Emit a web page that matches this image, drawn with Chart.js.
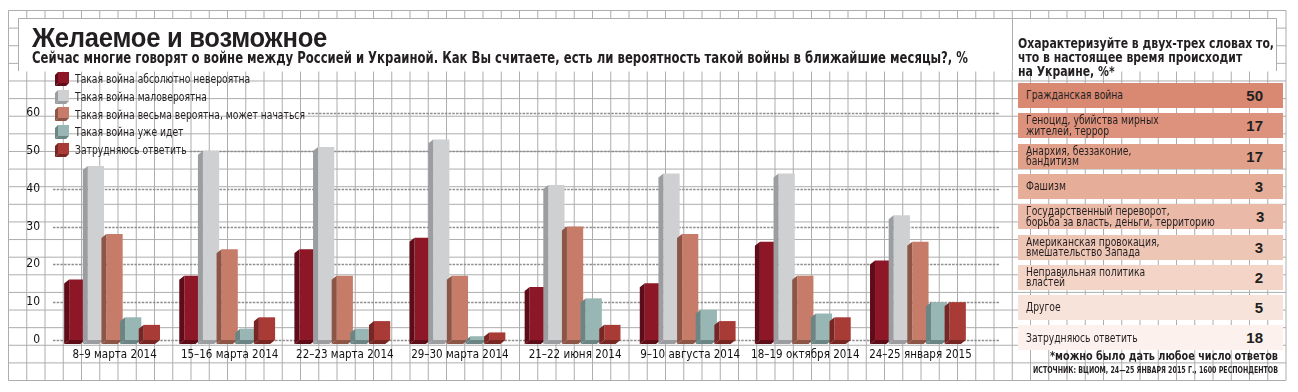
<!DOCTYPE html>
<html>
<head>
<meta charset="utf-8">
<script src="https://cdn.jsdelivr.net/npm/chart.js@4.4.1/dist/chart.umd.min.js"></script>
<style>
    body { margin: 0; width: 1298px; height: 392px; overflow: hidden; background: #fff; position: relative;
           font-family: "DejaVu Sans Condensed", "Liberation Sans", sans-serif; color: #231f20; }
    #bg, #chart { position: absolute; left: 0; top: 0; }
    .fit { position: absolute; white-space: nowrap; transform-origin: 0 0; }
    #title { left: 32px; top: 22px; font: bold 28px "Liberation Sans", sans-serif; letter-spacing: -0.3px; }
    #subtitle { left: 32px; top: 49px; font-weight: bold; font-size: 15px; }
    #heading { left: 1018px; top: 36px; font-weight: bold; font-size: 14px; line-height: 14px; white-space: pre; }
    #legend { position: absolute; left: 55px; top: 70px; }
    .lg { height: 17.7px; display: flex; align-items: center; font-size: 12.5px; white-space: nowrap; }
    .lg canvas { margin-right: 6px; }
    .lg span, .row .lab span { display: inline-block; transform: scaleX(0.82); transform-origin: 0 50%; }
    .row { position: absolute; left: 1018px; width: 265px; height: 25px; display: flex; align-items: center; justify-content: space-between; }
    .row .lab { padding-left: 8px; font-size: 12.5px; line-height: 10.5px; white-space: pre; }
    .row .val { padding-right: 20px; font-weight: bold; font-size: 15px; font-family: "Liberation Sans", sans-serif; }
    #note { left: 1050px; top: 348px; font-size: 12.5px; font-weight: bold; }
    #source { left: 1033px; top: 364px; font-size: 9.5px; font-weight: bold; }
</style>
</head>
<body>
<canvas id="bg" width="1298" height="392"></canvas>
<div id="title" class="fit">Желаемое и возможное</div>
<div id="subtitle" class="fit">Сейчас многие говорят о войне между Россией и Украиной. Как Вы считаете, есть ли вероятность такой войны в ближайшие месяцы?, %</div>
<div id="heading" class="fit">Охарактеризуйте в двух-трех словах то,
что в настоящее время происходит
на Украине, %*</div>
<canvas id="chart" width="1010" height="392"></canvas>
<div id="legend"></div>
<div id="table"></div>
<div id="note" class="fit">*можно было дать любое число ответов</div>
<div id="source" class="fit">ИСТОЧНИК: ВЦИОМ, 24—25 ЯНВАРЯ 2015 Г., 1600 РЕСПОНДЕНТОВ</div>
<script>
const surveyDates = ['8–9 марта 2014', '15–16 марта 2014', '22–23 марта 2014', '29–30 марта 2014',
    '21–22 июня 2014', '9–10 августа 2014', '18–19 октября 2014', '24–25 января 2015'];
const seriesNames = ['Такая война абсолютно невероятна', 'Такая война маловероятна',
    'Такая война весьма вероятна, может начаться', 'Такая война уже идет', 'Затрудняюсь ответить'];
const impossible = [16, 17, 24, 27, 14, 15, 26, 21];
const unlikely = [46, 50, 51, 53, 41, 44, 44, 33];
const likely = [28, 24, 17, 17, 30, 28, 17, 26];
const alreadyGoing = [6, 3, 3, 1, 11, 8, 7, 10];
const hardToSay = [4, 6, 5, 2, 4, 5, 6, 10];
const yTicks = [0, 10, 20, 30, 40, 50, 60];

const answerLabels = ['Гражданская война', 'Геноцид, убийства мирных\nжителей, террор', 'Анархия, беззаконие,\nбандитизм',
    'Фашизм', 'Государственный переворот,\nборьба за власть, деньги, территорию', 'Американская провокация,\nвмешательство Запада',
    'Неправильная политика\nвластей', 'Другое', 'Затрудняюсь ответить'];
const answerValues = [50, 17, 17, 3, 3, 3, 2, 5, 18];

// colours: front face, side face
const fronts = ['#8d1727', '#cfd0d2', '#c77c69', '#98b6b4', '#a93b37'];
const sides = ['#5e0c17', '#9c9da1', '#8c5546', '#6a8583', '#772623'];
const rowColors = ['#d98872', '#dc927c', '#e1a08a', '#e6ad99', '#eab9a7', '#eec6b6', '#f3d4c7', '#f8e3da', '#fcf1ec'];
const tickFont = '"DejaVu Sans Condensed", "Liberation Sans", sans-serif';

// background grid
(function drawGrid() {
    const c = document.getElementById('bg').getContext('2d');
    c.strokeStyle = '#adadad';
    c.lineWidth = 1;
    const x0 = 8.5, dx = 18.25, y0 = 10.5, dy = 17.62;
    c.beginPath();
    for (let k = 0; k <= 70; k++) { c.moveTo(x0 + k * dx, y0); c.lineTo(x0 + k * dx, 380.5); }
    for (let j = 0; j <= 21; j++) { c.moveTo(x0, y0 + j * dy); c.lineTo(1286, y0 + j * dy); }
    c.stroke();
    // white boxes for the title and the right heading
    c.fillStyle = '#fff';
    c.fillRect(18.5, 18.5, 1258, 53);
    c.beginPath();
    c.moveTo(18.5, 71); c.lineTo(18.5, 18.5); c.lineTo(1276.5, 18.5); c.lineTo(1276.5, 71);
    c.moveTo(1012.5, 18.5); c.lineTo(1012.5, 71);
    c.stroke();
})();

function cube(i) {
    const cv = document.createElement('canvas');
    cv.width = 14; cv.height = 14;
    const c = cv.getContext('2d');
    c.fillStyle = fronts[i];
    c.fillRect(3, 0, 11, 11);
    c.fillStyle = sides[i];
    c.beginPath(); c.moveTo(3, 0); c.lineTo(0, 3); c.lineTo(0, 14); c.lineTo(3, 11); c.fill();
    c.beginPath(); c.moveTo(3, 11); c.lineTo(14, 11); c.lineTo(11, 14); c.lineTo(0, 14); c.fill();
    return cv;
}

const legend = document.getElementById('legend');
seriesNames.forEach((name, i) => {
    const d = document.createElement('div');
    d.className = 'lg';
    d.appendChild(cube(i));
    const s = document.createElement('span');
    s.textContent = name;
    d.appendChild(s);
    legend.appendChild(d);
});

const table = document.getElementById('table');
answerLabels.forEach((lab, i) => {
    const r = document.createElement('div');
    r.className = 'row';
    r.style.top = (83 + i * 30.3) + 'px';
    r.style.background = rowColors[i];
    r.innerHTML = '<span class="lab"><span></span></span><span class="val"></span>';
    r.children[0].children[0].textContent = lab;
    r.children[1].textContent = answerValues[i];
    table.appendChild(r);
});

function fit(id, w) {
    const el = document.getElementById(id);
    const s = w / el.getBoundingClientRect().width;
    el.style.transform = 'scaleX(' + s + ')';
}
fit('title', 295);
fit('subtitle', 936);
fit('heading', 256);
fit('note', 228);
fit('source', 245);

// where the dotted lines run into the legend they start after its text
const legendBoxes = [...legend.querySelectorAll('span')].map(s => s.getBoundingClientRect());

const gridPlugin = {
    id: 'dottedGrid',
    beforeDatasetsDraw(chart) {
        const ctx = chart.ctx;
        const y = chart.scales.y;
        ctx.save();
        ctx.strokeStyle = '#8f8f8f';
        ctx.lineWidth = 1.5;
        ctx.setLineDash([2.5, 1.2]);
        for (const v of yTicks) {
            const py = Math.round(y.getPixelForValue(v)) + 0.5;
            let x0 = chart.chartArea.left - 4;
            for (const b of legendBoxes) {
                if (py > b.top && py < b.bottom) x0 = b.right + 3;
            }
            ctx.beginPath();
            ctx.moveTo(x0, py);
            ctx.lineTo(1000, py);
            ctx.stroke();
        }
        ctx.restore();
    }
};

const bar3d = {
    id: 'bar3d',
    afterDatasetsDraw(chart) {
        const ctx = chart.ctx;
        const d = 5, h = 4;
        ctx.save();
        chart.data.datasets.forEach((ds, i) => {
            const meta = chart.getDatasetMeta(i);
            meta.data.forEach(el => {
                const l = el.x - el.width / 2, r = el.x + el.width / 2;
                ctx.fillStyle = sides[i];
                ctx.beginPath();
                ctx.moveTo(l, el.y); ctx.lineTo(l - d, el.y + h);
                ctx.lineTo(l - d, el.base + h); ctx.lineTo(l, el.base);
                ctx.fill();
                ctx.beginPath();
                ctx.moveTo(l, el.base); ctx.lineTo(r, el.base);
                ctx.lineTo(r - d, el.base + h); ctx.lineTo(l - d, el.base + h);
                ctx.fill();
            });
        });
        ctx.restore();
    }
};

const allValues = [impossible, unlikely, likely, alreadyGoing, hardToSay];
new Chart(document.getElementById('chart'), {
    type: 'bar',
    data: {
        labels: surveyDates,
        datasets: seriesNames.map((name, i) => ({
            label: name,
            data: allValues[i],
            backgroundColor: fronts[i],
            borderWidth: 0,
            categoryPercentage: 0.81,
            barPercentage: 0.87
        }))
    },
    options: {
        responsive: false,
        animation: false,
        layout: { padding: { left: 0, right: 32, top: 113, bottom: 0 } },
        plugins: { legend: { display: false }, tooltip: { enabled: false } },
        scales: {
            x: {
                grid: { display: false, drawTicks: false },
                border: { display: false },
                ticks: { color: '#111', padding: 8, maxRotation: 0, autoSkip: false, font: { family: tickFont, size: 11.5 } },
                afterFit(scale) { scale.height = 52; }
            },
            y: {
                min: 0,
                max: 60,
                grid: { display: false, drawTicks: false },
                border: { display: false },
                ticks: { stepSize: 10, color: '#111', padding: 17, font: { family: tickFont, size: 12 } },
                afterFit(scale) { scale.width = 57; }
            }
        }
    },
    plugins: [gridPlugin, bar3d]
});
</script>
</body>
</html>
